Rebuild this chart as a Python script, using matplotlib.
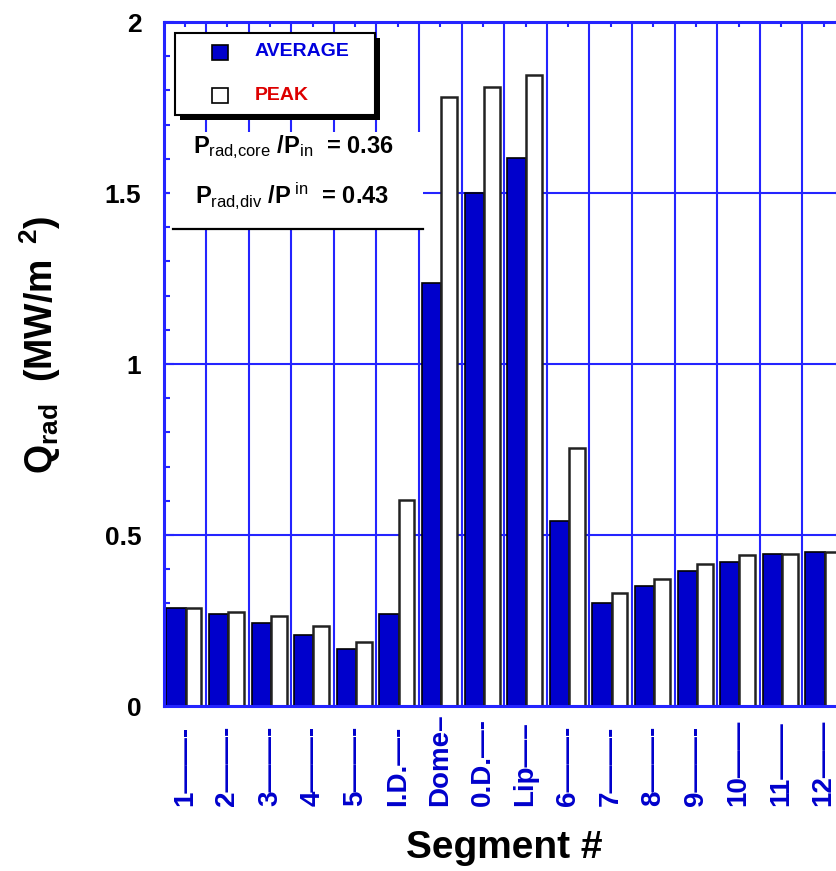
import numpy as np
import matplotlib
matplotlib.use("Agg")
import matplotlib.pyplot as plt
import matplotlib.transforms as mtransforms
from matplotlib.patches import Rectangle
from matplotlib.lines import Line2D

plt.rcParams['font.family'] = ['Liberation Sans', 'DejaVu Sans']
plt.rcParams['mathtext.fontset'] = 'custom'
plt.rcParams['mathtext.rm'] = 'Liberation Sans'
plt.rcParams['mathtext.bf'] = 'Liberation Sans:bold'
plt.rcParams['mathtext.it'] = 'Liberation Sans:italic'

# --- data ---
segments = ["1", "2", "3", "4", "5", "I.D.", "Dome", "0.D.", "Lip",
            "6", "7", "8", "9", "10", "11", "12"]
# labels as printed under the axis (name followed by a dashed leader)
seg_labels = ["1——-", "2——-", "3——-", "4——-", "5——-",
              "I.D.—-", "Dome–", "0.D.—-", "Lip—–", "6——-",
              "7——-", "8——-", "9——-", "10——", "11——",
              "12——"]
q_avg = [0.287, 0.268, 0.244, 0.208, 0.168, 0.269, 1.237, 1.501, 1.602,
         0.541, 0.300, 0.351, 0.396, 0.421, 0.445, 0.451]
q_peak = [0.287, 0.274, 0.263, 0.233, 0.188, 0.602, 1.782, 1.811, 1.845,
          0.753, 0.329, 0.371, 0.415, 0.441, 0.445, 0.451]
yticks = [0, 0.5, 1, 1.5, 2]
ytick_labels = ["0", "0.5", "1", "1.5", "2"]
frac_core = 0.36
frac_div = 0.43

BAR_BLUE = '#0000cc'
LINE_BLUE = '#2424ff'
W, H = 837, 871

fig = plt.figure(figsize=(W / 100, H / 100), dpi=100)
ax = fig.add_axes([163.5 / W, 165 / H, 681.5 / W, 684 / H])


def px(x, y):
    # pixel (from top-left) -> figure fraction
    return x / W, 1 - y / H


def px_rect(x0, y0, x1, y1, **kw):
    fx, fy = px(x0, y1)
    return Rectangle((fx, fy), (x1 - x0) / W, (y1 - y0) / H,
                     transform=fig.transFigure, **kw)


x = np.arange(len(segments))
ax.bar(x + 0.07, q_avg, width=0.45, align='edge', color=BAR_BLUE,
       edgecolor='black', linewidth=1.2, zorder=1)
ax.bar(x + 0.52, q_peak, width=0.37, align='edge', color='white',
       edgecolor='#222222', linewidth=1.8, zorder=1)

ax.set_xlim(0, 16)
ax.set_ylim(0, 2)
ax.set_axisbelow(True)

# axes styling
for sp in ax.spines.values():
    sp.set_color(LINE_BLUE)
    sp.set_linewidth(2.2)
ax.set_xticks(np.arange(0, 17))
ax.set_xticks(np.arange(0.5, 16, 1), minor=True)
ax.set_xticklabels([])
ax.tick_params(axis='x', which='major', length=0)
ax.tick_params(axis='x', which='minor', direction='in', length=3.5,
               width=1.5, color=LINE_BLUE, top=True, bottom=True)
ax.set_yticks(yticks)
ax.set_yticks(np.arange(0, 2.01, 0.1), minor=True)
ax.set_yticklabels(ytick_labels, fontsize=19, fontweight='bold')
ax.tick_params(axis='y', which='major', direction='in', length=7, width=1.5,
               color=LINE_BLUE, pad=16, left=True, right=True)
ax.tick_params(axis='y', which='minor', direction='in', length=4, width=1.5,
               color=LINE_BLUE, left=True, right=True)
ax.grid(True, which='major', color=LINE_BLUE, linewidth=1.5)

# segment labels under the axis
trans = mtransforms.blended_transform_factory(ax.transData, ax.transAxes)
for xi, lab in zip(x, seg_labels):
    ax.text(xi + 0.5, -0.146, lab, transform=trans, rotation=90,
            ha='center', va='bottom', fontsize=20, fontweight='bold',
            color=BAR_BLUE, clip_on=False)

# legend box with drop shadow
ax.add_patch(px_rect(180, 38, 380, 120, facecolor='black', edgecolor='none',
                     zorder=3))
ax.add_patch(px_rect(175, 33, 375, 115, facecolor='white', edgecolor='black',
                     linewidth=1.5, zorder=3.1))
ax.add_patch(px_rect(212, 45, 228, 60, facecolor=BAR_BLUE, edgecolor='black',
                     linewidth=1.2, zorder=3.2))
ax.add_patch(px_rect(212, 88, 228, 103, facecolor='white', edgecolor='black',
                     linewidth=1.2, zorder=3.2))
fig.text(*px(255, 52), "AVERAGE", fontsize=14, fontweight='bold',
         color='#0000dd', va='center', ha='left', zorder=4)
fig.text(*px(255, 95), "PEAK", fontsize=14, fontweight='bold',
         color='#dd0000', va='center', ha='left', zorder=4)

# radiated power fractions
ax.add_patch(px_rect(170, 132, 423, 229, facecolor='white', edgecolor='none',
                     zorder=2))
fig.add_artist(Line2D([173 / W, 423 / W], [1 - 229.5 / H, 1 - 229.5 / H],
                      color='black', linewidth=1.6, zorder=4))
fig.text(*px(193, 153),
         r'$\mathbf{P}_{\mathrm{rad{,}core}}\ \mathbf{/P}_{\mathrm{in}}$' +
         f'  = {frac_core:.2f}',
         fontsize=17, fontweight='bold', va='baseline', ha='left', zorder=4)
fig.text(*px(195, 203),
         r'$\mathbf{P}_{\mathrm{rad{,}div}}\ \mathbf{/P}^{\ \mathrm{in}}$' +
         f'  = {frac_div:.2f}',
         fontsize=17, fontweight='bold', va='baseline', ha='left', zorder=4)

# axis titles
fig.text(*px(40, 345),
         r'$\mathbf{Q}_{\mathbf{rad}}$  (MW/m$^{\ \ \mathbf{2}}$)',
         rotation=90, fontsize=27, fontweight='bold', ha='center', va='center')
fig.text(*px(504, 848), "Segment #", fontsize=28, fontweight='bold',
         ha='center', va='center')

fig.savefig('out.png', dpi=100)
